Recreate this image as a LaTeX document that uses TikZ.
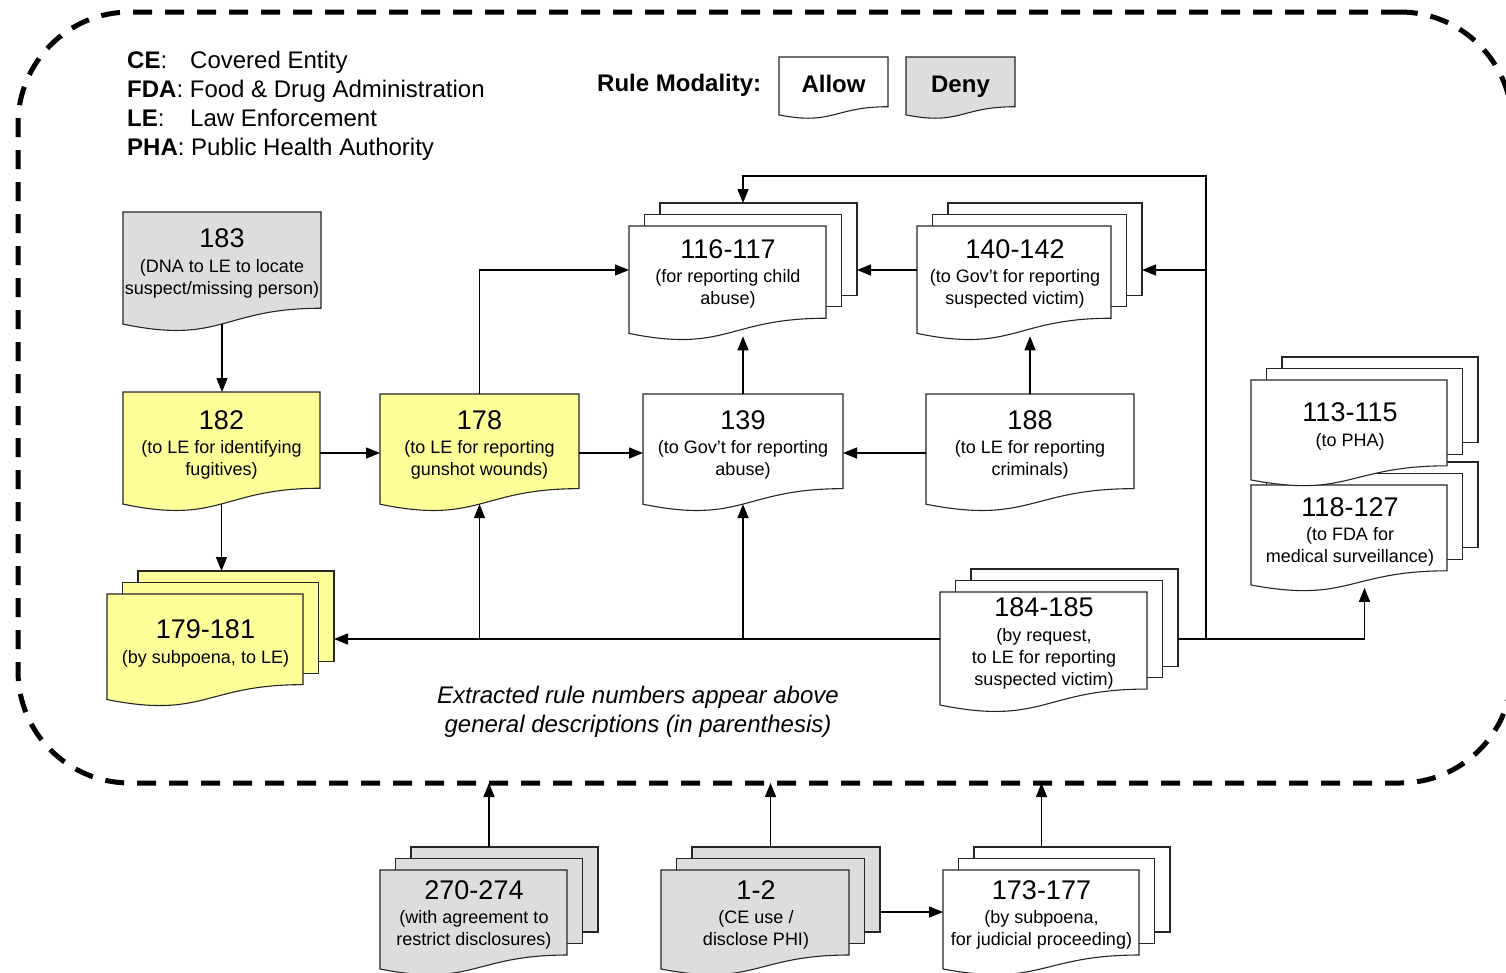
\documentclass[tikz,border=0pt]{standalone}
\usepackage{fontspec}
\setmainfont{Liberation Sans}
\usetikzlibrary{arrows.meta}
\definecolor{docgray}{HTML}{DDDDDD}
\definecolor{docyellow}{HTML}{FFFF99}
\newcommand\docpath[5]{%
  \path[docline,fill=#5] (#1,#2) -- ({#1+#3},#2) -- ({#1+#3},{#2+0.802*#4})
    .. controls ({#1+0.5*#3},{#2+0.802*#4}) and ({#1+0.5*#3},{#2+1.107*#4}) .. (#1,{#2+0.934*#4}) -- cycle;}
\newcommand\singledoc[6]{%
  \docpath{#2}{#3}{#4}{#5}{#6}
  \node[anchor=north west,minimum width={#4},minimum height={0.933*#5},inner sep=0pt,outer sep=0pt] (#1) at (#2,#3) {};}
\newcommand\multidoc[6]{%
  \path[docline,fill=#6] ({#2+31},{#3-23}) rectangle ({#2+#4+31},{#3+0.802*#5-23});
  \path[docline,fill=#6] ({#2+15.5},{#3-11.5}) rectangle ({#2+#4+15.5},{#3+0.802*#5-11.5});
  \docpath{#2}{#3}{#4}{#5}{#6}
  \node[anchor=north west,minimum width={#4+31},minimum height={0.933*#5+23},inner sep=0pt,outer sep=0pt] (#1) at (#2,{#3-23}) {};}
\begin{document}
\begin{tikzpicture}[x=1pt,y=-1pt,
  docline/.style={draw=black!85,line width=1.1pt},
  numtext/.style={inner sep=0pt,font=\fontsize{27}{32}\selectfont},
  desctext/.style={inner sep=0pt,align=center,font=\fontsize{18}{22}\selectfont},
  legendtext/.style={inner sep=0pt,anchor=base west,font=\fontsize{24}{29}\selectfont},
  boldtext/.style={inner sep=0pt,anchor=base,font=\fontsize{24}{29}\selectfont\bfseries},
  captext/.style={inner sep=0pt,align=center,font=\fontsize{24}{29}\selectfont\itshape},
  conn/.style={line width=1.4pt,-{Triangle[length=14pt,width=11pt]}}]
\useasboundingbox (0,0) rectangle (1506,972);
\clip (0,0) rectangle (1506,972);
\fill[white] (0,0) rectangle (1506,972);

% dashed region
\node[draw,line width=5pt,dash pattern=on 19pt off 13pt,rounded corners=112pt,
  minimum width=1494,minimum height=771,inner sep=0pt,outer sep=0pt] (region) at (765,397.5) {};

% legend
\node[legendtext] (lce) at (127,68.6) {\textbf{CE}:};
\node[legendtext] (lcet) at (190,68.6) {Covered Entity};
\node[legendtext] (lfda) at (127,97.6) {\textbf{FDA}: Food \& Drug Administration};
\node[legendtext] (lle) at (127,126.6) {\textbf{LE}:};
\node[legendtext] (llet) at (190,126.6) {Law Enforcement};
\node[legendtext] (lpha) at (127,155.6) {\textbf{PHA}: Public Health Authority};

\node[boldtext,anchor=base west] (rulemod) at (597,91.6) {Rule Modality:};
\singledoc{allow}{779}{57}{109}{62}{white}
\node[boldtext] (tallow) at (833.5,92.5) {Allow};
\singledoc{deny}{906}{57}{109}{62}{docgray}
\node[boldtext] (tdeny) at (960.5,92.5) {Deny};

% documents
\singledoc{n183}{123}{212}{198}{120}{docgray}
\node[numtext] (t183) at (222,238) {183};
\node[desctext] (d183) at (222,279) {(DNA to LE to locate\\suspect/missing person)};

\singledoc{n182}{123}{392}{197}{120}{docyellow}
\node[numtext] (t182) at (221.5,420) {182};
\node[desctext] (d182) at (221.5,460) {(to LE for identifying\\fugitives)};

\singledoc{n178}{380}{394}{199}{118}{docyellow}
\node[numtext] (t178) at (479.5,420) {178};
\node[desctext] (d178) at (479.5,460) {(to LE for reporting\\gunshot wounds)};

\singledoc{n139}{643}{394}{200}{118}{white}
\node[numtext] (t139) at (743,420) {139};
\node[desctext] (d139) at (743,460) {(to Gov’t for reporting\\abuse)};

\singledoc{n188}{926}{394}{208}{118}{white}
\node[numtext] (t188) at (1030,420) {188};
\node[desctext] (d188) at (1030,460) {(to LE for reporting\\criminals)};

\multidoc{n116}{629}{226}{197}{115}{white}
\node[numtext] (t116) at (728,249) {116-117};
\node[desctext] (d116) at (728,289) {(for reporting child\\abuse)};

\multidoc{n140}{917}{226}{194}{115}{white}
\node[numtext] (t140) at (1015,249) {140-142};
\node[desctext] (d140) at (1015,289) {(to Gov’t for reporting\\suspected victim)};

\multidoc{n118}{1251}{485}{196}{107}{white}
\node[numtext] (t118) at (1350,507) {118-127};
\node[desctext] (d118) at (1350,547) {(to FDA for\\medical surveillance)};

\multidoc{n113}{1251}{380}{196}{107}{white}
\node[numtext] (t113) at (1350,412) {113-115};
\node[desctext] (d113) at (1350,441.5) {(to PHA)};

\multidoc{n179}{107}{594}{196}{113}{docyellow}
\node[numtext] (t179) at (205.5,629) {179-181};
\node[desctext] (d179) at (205.5,658.5) {(by subpoena, to LE)};

\multidoc{n184}{940}{592}{207}{121}{white}
\node[numtext] (t184) at (1044,607) {184-185};
\node[desctext] (d184) at (1044,659) {(by request,\\to LE for reporting\\suspected victim)};

\multidoc{n270}{380}{870}{187}{106}{docgray}
\node[numtext] (t270) at (474,890) {270-274};
\node[desctext] (d270) at (474,930) {(with agreement to\\restrict disclosures)};

\multidoc{n12}{661}{870}{188}{106}{docgray}
\node[numtext] (t12) at (756,890) {1-2};
\node[desctext] (d12) at (756,930) {(CE use /\\disclose PHI)};

\multidoc{n173}{943}{870}{196}{106}{white}
\node[numtext] (t173) at (1041.5,890) {173-177};
\node[desctext] (d173) at (1041.5,930) {(by subpoena,\\for judicial proceeding)};

\node[captext] (caption) at (638,712) {Extracted rule numbers appear above\\general descriptions (in parenthesis)};

% routing coordinates
\coordinate (midrow) at (0,453);
\coordinate (toprow) at (0,270);
\coordinate (busrow) at (0,639);
\coordinate (botrow) at (0,912);
\coordinate (corner) at (1206,176);

% connectors
\draw[conn] (n183.south) -- (n183.south |- n182.north);
\draw[conn] (n182.east |- midrow) -- (n178.west |- midrow);
\draw[conn] (n178.north) |- (n116.west |- toprow);
\draw[conn] (n178.east |- midrow) -- (n139.west |- midrow);
\draw[conn,shorten >=3pt] (n139.north) -- (n139.north |- n116.south);
\draw[conn] (n188.west |- midrow) -- (n139.east |- midrow);
\draw[conn,shorten >=3pt] (n188.north) -- (n188.north |- n140.south);
\draw[conn] (n140.west |- toprow) -- (n116.east |- toprow);
\draw[conn] (n184.west |- busrow) -- (n179.east |- busrow);
\draw[conn] (n178.south |- busrow) -- (n178.south);
\draw[conn] (n139.south |- busrow) -- (n139.south);
\draw[conn] (n184.east |- busrow) -| (corner) -| (n116.north);
\draw[conn] (corner |- toprow) -- (n140.east |- toprow);
\draw[conn,shorten >=3pt] (corner |- busrow) -| (n118.south);
\draw[conn] (n182.south) -- (n182.south |- n179.north);
\draw[conn] (n270.north) -- (n270.north |- region.south);
\draw[conn] (n12.north) -- (n12.north |- region.south);
\draw[conn] (t173 |- n173.north) -- (t173 |- region.south);
\draw[conn] (n12.east |- botrow) -- (n173.west |- botrow);
\end{tikzpicture}
\end{document}
